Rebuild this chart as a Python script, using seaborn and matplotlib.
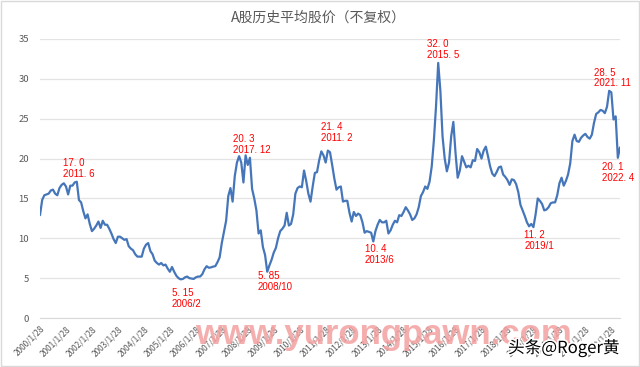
import matplotlib
matplotlib.use("Agg")
import matplotlib.pyplot as plt
import matplotlib.patheffects as pe
from matplotlib.patches import Rectangle
import seaborn as sns
import pandas as pd
import numpy as np

# Monthly average share price (2000/1 .. 2022/5)
prices_2000s = [
    12.9, 14.8, 15.4, 15.5, 15.6, 16.0, 16.1, 15.6, 15.4, 16.3, 16.7, 16.9,   # 2000
    16.5, 15.5, 16.6, 16.6, 17.0, 17.1, 14.8, 14.5, 13.4, 12.5, 13.0, 11.8,   # 2001
    10.9, 11.2, 11.6, 12.1, 11.3, 12.2, 11.7, 11.7, 11.2, 10.6, 9.9, 9.4,     # 2002
    10.2, 10.2, 10.0, 9.8, 9.9, 9.0, 8.7, 8.5, 8.0, 7.7, 7.7, 7.7,            # 2003
    8.7, 9.2, 9.4, 8.4, 8.0, 7.2, 6.9, 6.7, 6.9, 6.6, 6.7, 6.2,               # 2004
    5.8, 6.4, 5.8, 5.3, 5.0, 4.85, 4.9, 5.1, 5.2, 5.0, 4.95, 4.9,             # 2005
    5.1, 5.2, 5.2, 5.5, 6.1, 6.5, 6.3, 6.35, 6.45, 6.5, 7.0, 7.6,             # 2006
    9.4, 10.8, 12.2, 15.3, 16.3, 14.6, 17.8, 19.5, 20.3, 19.5, 17.0, 20.4,    # 2007
    19.2, 20.1, 16.2, 15.0, 13.5, 10.6, 11.0, 8.9, 7.9, 5.8, 6.6, 7.3,        # 2008
    8.2, 8.8, 10.0, 10.9, 11.2, 11.6, 13.2, 11.6, 11.8, 13.0, 15.6, 16.3,     # 2009
]
prices_2010s = [
    16.5, 16.4, 18.5, 17.2, 15.6, 14.6, 16.5, 18.2, 18.3, 19.8, 20.9, 20.4,   # 2010
    19.5, 21.0, 20.8, 19.2, 17.5, 16.1, 16.4, 16.5, 14.6, 14.7, 14.7, 13.2,   # 2011
    12.1, 13.3, 12.8, 13.1, 12.9, 12.0, 10.7, 10.9, 10.8, 10.7, 9.6, 10.9,    # 2012
    11.7, 12.3, 12.0, 12.0, 12.2, 10.6, 11.0, 11.7, 12.2, 12.0, 12.9, 12.8,   # 2013
    13.3, 13.9, 13.5, 13.0, 12.3, 12.5, 13.0, 13.9, 15.3, 15.8, 16.5, 16.2,   # 2014
    17.1, 19.0, 22.3, 26.6, 32.0, 28.5, 22.8, 20.0, 18.4, 19.5, 22.8, 24.6,   # 2015
    20.7, 17.6, 18.5, 20.3, 19.6, 18.9, 19.1, 18.9, 19.8, 19.7, 21.2, 20.8,   # 2016
    20.0, 21.0, 21.5, 20.3, 19.0, 18.1, 17.8, 18.3, 18.9, 19.0, 18.0, 17.7,   # 2017
    17.3, 16.7, 17.4, 17.3, 16.8, 15.8, 14.2, 13.5, 12.8, 12.0, 11.5, 11.8,   # 2018
    11.4, 13.0, 15.0, 14.7, 14.3, 13.5, 13.6, 13.9, 14.4, 14.5, 14.5, 15.4,   # 2019
]
prices_2020s = [
    16.9, 17.6, 16.6, 17.2, 18.0, 19.4, 22.2, 23.0, 22.2, 22.1, 22.6, 22.9,   # 2020
    23.1, 22.7, 22.5, 23.0, 24.5, 25.6, 25.8, 26.1, 26.0, 25.7, 26.5, 28.5,   # 2021
    28.3, 24.9, 25.3, 20.1, 21.4,                                             # 2022
]
tick_labels = [f"{y}/1/28" for y in range(2000, 2023)]

# Red notes written on the chart
note_texts = ["17. 0\n2011. 6", "20. 3\n2017. 12", "5. 15\n2006/2", "5. 85\n2008/10",
              "21. 4\n2011. 2", "10. 4\n2013/6", "32. 0\n2015. 5", "11. 2\n2019/1",
              "28. 5\n2021. 11", "20. 1\n2022. 4"]
note_x = [10.6, 89.2, 61.0, 100.7, 129.9, 150.2, 178.8, 223.7, 256.0, 259.7]
note_y = [18.8, 21.8, 2.45, 4.6, 23.3, 8.0, 33.7, 9.7, 30.1, 18.3]

prices = prices_2000s + prices_2010s + prices_2020s
df = pd.DataFrame({"month": np.arange(len(prices)), "price": prices})

sns.set_style("white")
plt.rcParams["font.family"] = ["Noto Sans CJK SC", "DejaVu Sans"]

fig = plt.figure(figsize=(6.4, 3.67), dpi=100)
ax = fig.add_axes([40 / 640, 1 - 318 / 367, 580 / 640, 279 / 367])

sns.lineplot(data=df, x="month", y="price", ax=ax, color="#4676ba", linewidth=1.6)

ax.set_xlim(0, len(prices) - 1)
ax.set_ylim(0, 35)
ax.set_yticks(range(0, 36, 5))
ax.set_xticks(range(0, len(prices), 12))
ax.set_xticklabels(tick_labels, rotation=45, ha="right", rotation_mode="anchor")
ax.set_xlabel("")
ax.set_ylabel("")
ax.grid(axis="y", color="#e3e3e3", linewidth=0.9)
ax.set_axisbelow(True)
for s in ["top", "right", "left"]:
    ax.spines[s].set_visible(False)
ax.spines["bottom"].set_color("#d9d9d9")
ax.tick_params(axis="y", length=0, pad=8, labelsize=6.8, labelcolor="#595959")
ax.tick_params(axis="x", length=3.5, width=0.8, color="#d9d9d9", pad=1,
               labelsize=6, labelcolor="#595959")

for t, x, y in zip(note_texts, note_x, note_y):
    ax.text(x, y, t, color="red", fontsize=7, ha="left", va="center",
            linespacing=1.1, family=["Liberation Sans"])

fig.text(0.497, 1 - 18 / 367, "A股历史平均股价（不复权）", ha="center", va="center",
         fontsize=10, color="#595959")

fig.text(383 / 640, 1 - 344 / 367, "www.yurongpawn.com", ha="center", va="baseline",
         fontsize=25, family="Liberation Sans", weight="bold", color="#f4a0a0",
         alpha=0.85, zorder=10)
fig.text(508 / 640, 1 - 348 / 367, "头条@Roger黄", ha="left", va="center", fontsize=12,
         color="black", zorder=11,
         path_effects=[pe.withStroke(linewidth=2.5, foreground="white")])

fig.patches.append(Rectangle((0.002, 0.003), 0.996, 0.994, transform=fig.transFigure,
                             fill=False, edgecolor="#d9d9d9", linewidth=1))

fig.savefig("out.png", dpi=100)
